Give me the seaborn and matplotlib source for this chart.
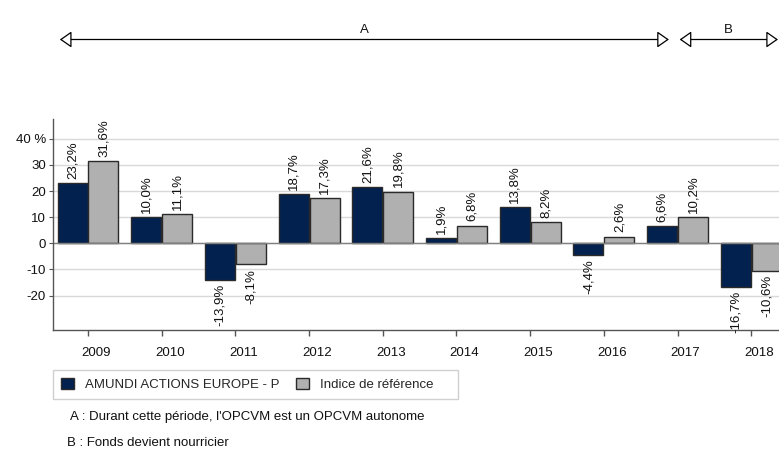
import matplotlib
matplotlib.use("Agg")
import matplotlib.pyplot as plt
import matplotlib.transforms as mtransforms
from matplotlib.patches import Patch, FancyArrowPatch, Rectangle
import seaborn as sns
import pandas as pd

years = ["2009", "2010", "2011", "2012", "2013", "2014", "2015", "2016", "2017", "2018"]
fund = [23.2, 10.0, -13.9, 18.7, 21.6, 1.9, 13.8, -4.4, 6.6, -16.7]
index_ref = [31.6, 11.1, -8.1, 17.3, 19.8, 6.8, 8.2, 2.6, 10.2, -10.6]
series_names = ["AMUNDI ACTIONS EUROPE - P", "Indice de référence"]
colors = ["#03214f", "#b0b0b0"]
y_ticks = [-20, -10, 0, 10, 20, 30, 40]
y_tick_labels = ["-20", "-10", "0", "10", "20", "30", "40 %"]
period_labels = ["A", "B"]
notes = ["A : Durant cette période, l'OPCVM est un OPCVM autonome",
         "B : Fonds devient nourricier"]

df = pd.DataFrame({
    "year": years * 2,
    "value": fund + index_ref,
    "serie": [series_names[0]] * len(years) + [series_names[1]] * len(years),
})

sns.set_theme(style="white")
plt.rcParams["font.family"] = ["Liberation Sans", "DejaVu Sans"]

fig = plt.figure(figsize=(7.79, 4.49), dpi=100)
ax = fig.add_axes([53 / 779, 119 / 449, 1 - 53 / 779, (330 - 119.3) / 449])

sns.barplot(data=df, x="year", y="value", hue="serie", palette=colors,
            edgecolor="#2a2a2a", linewidth=1.0, width=0.84, gap=0.03, ax=ax,
            legend=False, saturation=1)

ax.set_xlim(-0.475, 9.376)
ax.set_ylim(-33.2, 47.5)
ax.set_yticks(y_ticks)
ax.set_yticklabels(y_tick_labels)
ax.set_xlabel("")
ax.set_ylabel("")
ax.yaxis.grid(True, color="#d9d9d9", linewidth=1)
ax.set_axisbelow(True)
ax.axhline(0, color="#808080", linewidth=1, zorder=1)

for s in ["top", "right"]:
    ax.spines[s].set_visible(False)
for s in ["left", "bottom"]:
    ax.spines[s].set_color("#555555")
    ax.spines[s].set_linewidth(1)

ax.tick_params(axis="x", bottom=True, length=4, width=1, color="#555555",
               pad=8, labelsize=9.5, labelcolor="#111111")
ax.tick_params(axis="y", left=True, length=3, width=0.8, color="#555555",
               pad=2, labelsize=9.5, labelcolor="#111111")
offset = mtransforms.ScaledTranslation(8 / 100, 0, fig.dpi_scale_trans)
for lab in ax.get_xticklabels():
    lab.set_transform(lab.get_transform() + offset)

for cont, vals in zip(ax.containers, [fund, index_ref]):
    labels = [f"{v:.1f}%".replace(".", ",") for v in vals]
    ax.bar_label(cont, labels=labels, rotation=90, padding=3, fontsize=9.5,
                 color="#111111", clip_on=False)

# Period arrows
trans = mtransforms.blended_transform_factory(ax.transData, fig.transFigure)
arrow_y = (449 - 39.5) / 449
spans = [(-0.42, 7.92), (7.99, 9.40)]
for (x0, x1), lab in zip(spans, period_labels):
    arr = FancyArrowPatch((x0, arrow_y), (x1, arrow_y), transform=trans,
                          arrowstyle="<|-|>,head_length=0.6,head_width=0.42",
                          mutation_scale=12, facecolor="white",
                          edgecolor="black", linewidth=0.9, clip_on=False)
    fig.patches.append(arr)
    fig.text((x0 + x1) / 2, (449 - 30) / 449, lab, transform=trans,
             ha="center", va="center", fontsize=9.5, color="#111111")

handles = [Patch(facecolor=c, edgecolor="#2a2a2a", linewidth=1.0) for c in colors]
leg = fig.legend(handles, series_names, loc="lower left",
                 bbox_to_anchor=(53 / 779, (449 - 399) / 449), ncol=2,
                 borderaxespad=0, frameon=False, fontsize=9.5,
                 handlelength=1.0, handleheight=1.0, columnspacing=1.2,
                 borderpad=0.6, handletextpad=0.85)
frame = Rectangle((53 / 779, (449 - 399) / 449), (458 - 53) / 779, 29 / 449,
                  transform=fig.transFigure, facecolor="none",
                  edgecolor="#d0d0d0", linewidth=1)
fig.patches.append(frame)

fig.text(70 / 779, (449 - 417) / 449, notes[0], ha="left", va="center",
         fontsize=9.5, color="#111111")
fig.text(67 / 779, (449 - 443) / 449, notes[1], ha="left", va="center",
         fontsize=9.5, color="#111111")

fig.savefig("out.png", dpi=100)
